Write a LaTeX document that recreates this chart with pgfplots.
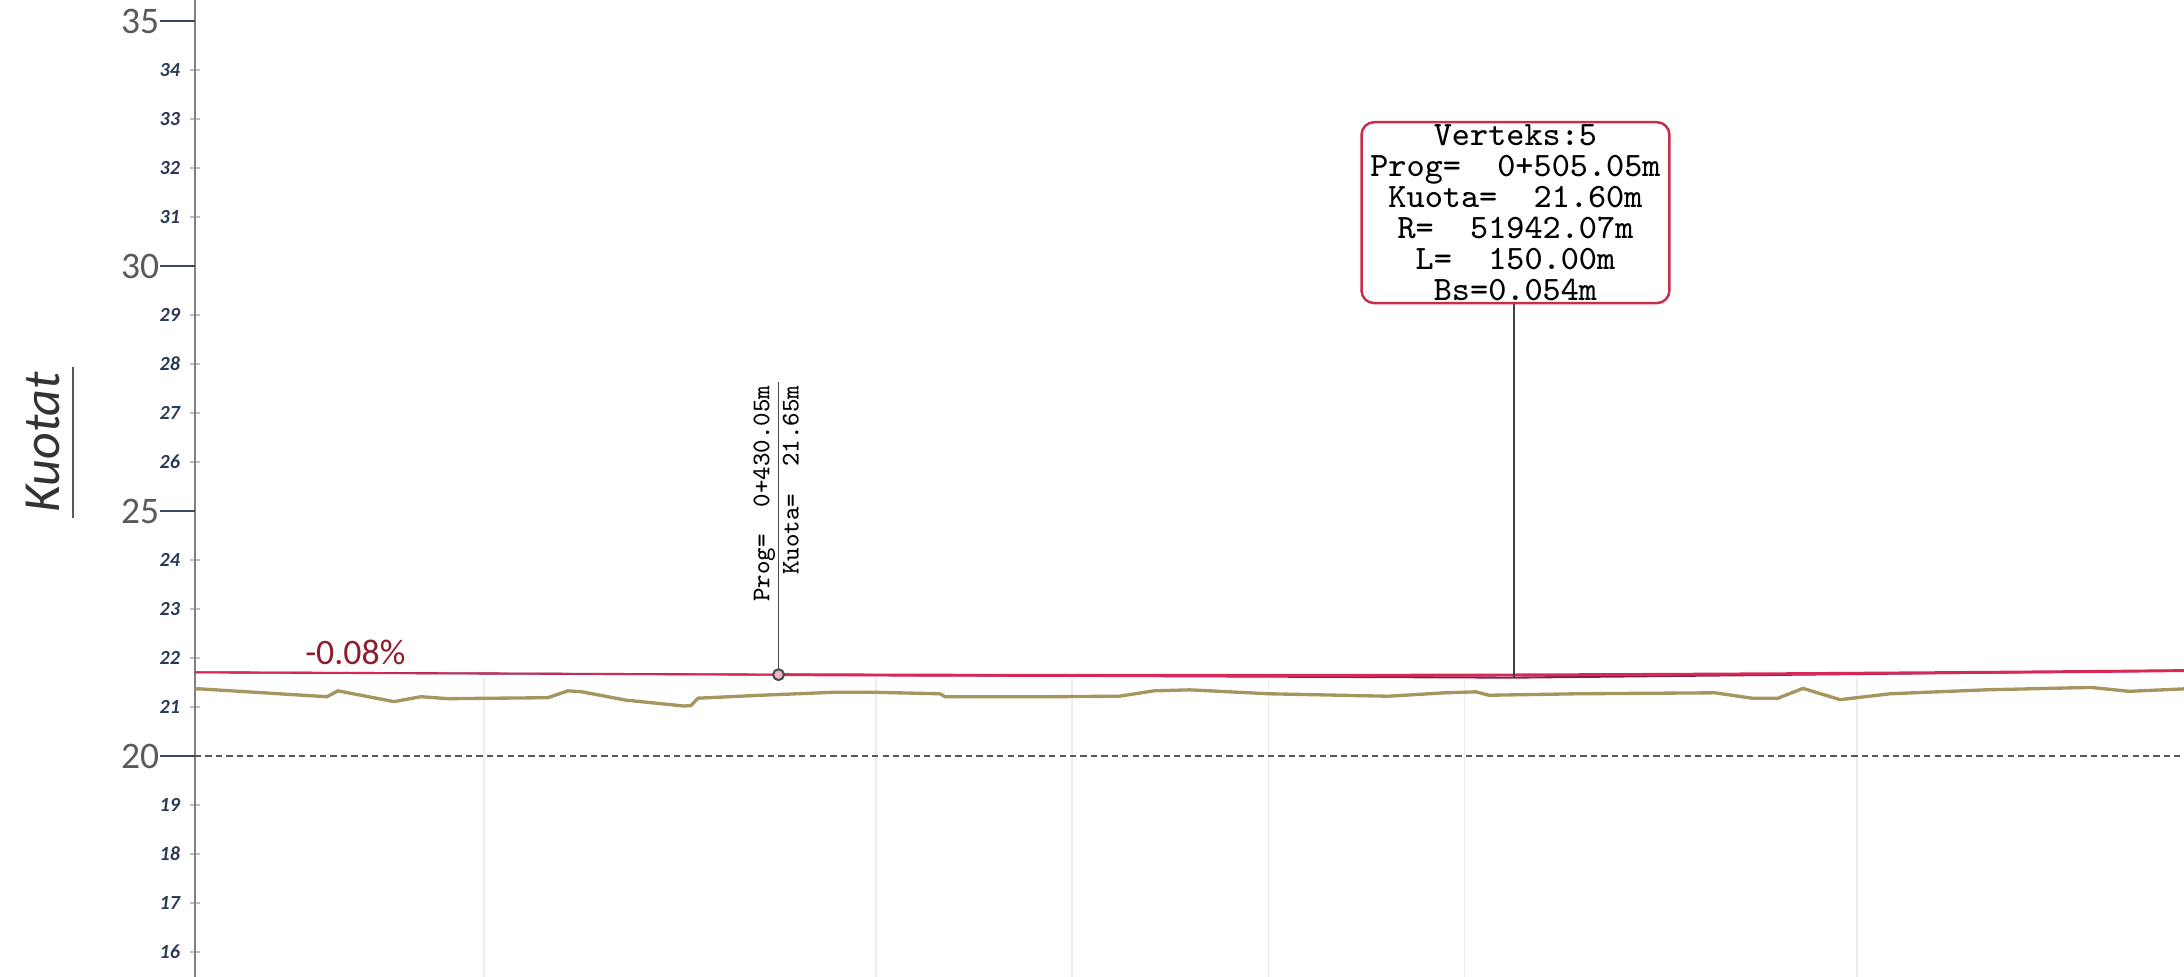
\documentclass[border=0pt]{standalone}
\usepackage{pgfplots}
\pgfplotsset{compat=1.18}
\usepackage{fontspec}
\setmainfont{Carlito}
\definecolor{grade}{RGB}{135,30,75}
\definecolor{curve}{RGB}{215,40,90}
\definecolor{ground}{RGB}{165,150,95}
\definecolor{minorlab}{RGB}{40,58,88}
\definecolor{majorlab}{RGB}{90,90,90}
\definecolor{majortick}{RGB}{60,70,95}
\definecolor{pct}{RGB}{140,30,45}
\definecolor{boxred}{RGB}{200,45,75}
\begin{document}
\begin{tikzpicture}
\begin{axis}[
  at={(0,0)}, anchor=south west,
  scale only axis, width=477.36pt, height=234.48pt,
  xmin=370.55, xmax=573.37, ymin=15.49, ymax=35.43,
  axis x line=none, axis y line*=left,
  y axis line style={draw=gray, line width=0.5pt, -},
  ytick={16,17,18,19,21,22,23,24,26,27,28,29,31,32,33,34},
  tick align=center,
  major tick length=2.4pt,
  ytick style={draw=gray!50, line width=0.4pt},
  /pgf/number format/assume math mode=true,
  yticklabel style={font=\fontsize{4.8}{5}\selectfont\itshape\bfseries, text=minorlab, inner xsep=2.2pt, inner ysep=0pt},
  extra y ticks={20,25,30,35},
  extra y tick style={tick align=outside, major tick length=8.4pt,
    ytick style={draw=majortick, line width=0.6pt},
    yticklabel style={font=\fontsize{9}{9}\selectfont\mdseries\upshape, text=majorlab, inner xsep=0pt}},
  clip=false,
]
% light vertical grid
\addplot[draw=gray!15, line width=0.4pt] coordinates {(400,15.49) (400,21.6)};
\addplot[draw=gray!15, line width=0.4pt] coordinates {(440,15.49) (440,21.6)};
\addplot[draw=gray!15, line width=0.4pt] coordinates {(460,15.49) (460,21.6)};
\addplot[draw=gray!15, line width=0.4pt] coordinates {(480,15.49) (480,21.6)};
\addplot[draw=gray!15, line width=0.4pt] coordinates {(500,15.49) (500,21.6)};
\addplot[draw=gray!15, line width=0.4pt] coordinates {(540,15.49) (540,21.6)};
% datum line
\addplot[draw=gray!70!black, dash pattern=on 1.5pt off 1pt, line width=0.45pt] coordinates {(370.55,20) (573.37,20)};
% ground profile
\addplot[draw=ground, line width=0.8pt] coordinates {
(370.55,21.37) (371.06,21.37) (384.01,21.21) (385.13,21.33) (390.84,21.11)
(393.59,21.21) (396.35,21.17) (406.54,21.19) (408.58,21.33) (410.01,21.31)
(414.50,21.14) (420.41,21.02) (421.13,21.03) (421.84,21.18) (428.26,21.24)
(435.61,21.30) (439.99,21.30) (446.52,21.27) (447.03,21.21) (457.43,21.21)
(464.77,21.22) (468.34,21.33) (472.01,21.35) (480.06,21.27) (492.20,21.22)
(498.01,21.29) (501.17,21.31) (502.49,21.24) (511.47,21.27) (525.54,21.29)
(529.32,21.18) (531.97,21.18) (534.52,21.38) (538.29,21.15) (543.39,21.27)
(553.07,21.35) (563.88,21.40) (567.76,21.32) (573.37,21.37)};
% grade tangents
\addplot[draw=grade, line width=0.5pt] coordinates {(370.55,21.708) (505.05,21.60) (573.37,21.743)};
% vertical curve
\addplot[draw=curve, line width=0.7pt] coordinates {
(430.05,21.660) (445.05,21.650) (460.05,21.645) (475.05,21.644) (490.05,21.647)
(505.05,21.654) (520.05,21.666) (535.05,21.682) (550.05,21.703) (565.05,21.727) (573.37,21.743)};
\addplot[draw=curve, line width=0.4pt] coordinates {(370.55,21.708) (430.05,21.660)};
% annotation lines
\addplot[draw=black!70, line width=0.4pt] coordinates {(430.05,27.63) (430.05,21.66)};
\addplot[draw=black!75, line width=0.4pt] coordinates {(505.05,29.245) (505.05,21.60)};
\addplot[only marks, mark=*, mark size=1.3pt, mark options={draw=black!70, line width=0.5pt, fill=curve!35}] coordinates {(430.05,21.66)};
% underline of the y label
\addplot[draw=gray!70!black, line width=0.5pt] coordinates {(358.11,27.94) (358.11,24.86)};
% labels
\node[font=\fontsize{8.6}{9}\selectfont, text=pct] at (axis cs:386.9,22.12) {-0.08\%};
\node[draw=boxred, line width=0.6pt, rounded corners=3pt, fill=white,
      minimum width=73.9pt, minimum height=43.4pt, inner sep=0pt, align=center,
      font=\ttfamily\fontsize{8.2}{7.44}\selectfont] at (axis cs:505.2,31.09)
  {Verteks:5\\Prog=\ \ 0+505.05m\\Kuota=\ \ 21.60m\\R=\ \ 51942.07m\\L=\ \ 150.00m\\Bs=0.054m};
\node[rotate=90, anchor=base east, inner sep=0pt, font=\ttfamily\fontsize{6.1}{7}\selectfont]
  at (axis cs:429.12,27.57) {Prog=\ \ 0+430.05m};
\node[rotate=90, anchor=base east, inner sep=0pt, font=\ttfamily\fontsize{6.1}{7}\selectfont]
  at (axis cs:432.09,27.57) {Kuota=\ \ 21.65m};
\node[rotate=90, font=\fontsize{12.5}{13}\selectfont\itshape, text=black!80]
  at (axis cs:355.05,26.4) {Kuotat};
\end{axis}
\pgfresetboundingbox
\path[use as bounding box] (-46.8pt,0) rectangle (477.36pt,234.48pt);
\end{tikzpicture}
\end{document}
